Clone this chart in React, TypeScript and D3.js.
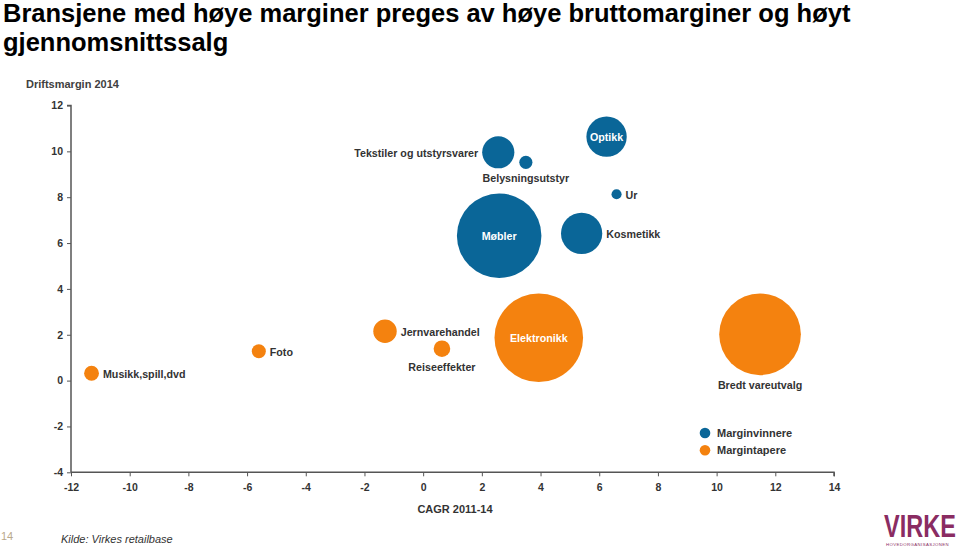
import React, { useEffect, useRef } from "react";
import * as d3 from "d3";

// Bransjer: CAGR 2011-14 (x), driftsmargin 2014 (y), gj.snittssalg (relativ boblestørrelse)
const names = [
  "Tekstiler og utstyrsvarer",
  "Belysningsutstyr",
  "Optikk",
  "Ur",
  "Møbler",
  "Kosmetikk",
  "Musikk,spill,dvd",
  "Foto",
  "Jernvarehandel",
  "Reiseeffekter",
  "Elektronikk",
  "Bredt vareutvalg",
];
const cagr = [2.56, 3.5, 6.25, 6.59, 2.59, 5.4, -11.3, -5.6, -1.3, 0.64, 3.94, 11.48];
const margin2014 = [9.96, 9.52, 10.64, 8.13, 6.32, 6.42, 0.32, 1.28, 2.15, 1.39, 1.87, 2.02];
const avgSales = [13.2, 2.2, 20.7, 1.3, 91, 21.7, 2.8, 2.5, 7.0, 3.5, 100, 85];
const group = ["w", "w", "w", "w", "w", "w", "l", "l", "l", "l", "l", "l"];

const xTicks = d3.range(-12, 15, 2);
const yTicks = d3.range(-4, 13, 2);

const legendItems = [
  { key: "w", label: "Marginvinnere" },
  { key: "l", label: "Margintapere" },
];

// where each label sits relative to its bubble
const labelPlace: Record<string, string> = {
  "Tekstiler og utstyrsvarer": "left",
  Belysningsutstyr: "below",
  Optikk: "inside",
  Ur: "right",
  Møbler: "inside",
  Kosmetikk: "right",
  "Musikk,spill,dvd": "right",
  Foto: "right",
  Jernvarehandel: "right",
  Reiseeffekter: "below",
  Elektronikk: "inside",
  "Bredt vareutvalg": "below",
};

const colors: Record<string, string> = { w: "#0a6698", l: "#f4820f" };
const font = "Arial, 'Liberation Sans', sans-serif";

export default function App() {
  const svgRef = useRef<SVGSVGElement>(null);

  useEffect(() => {
    const width = 959;
    const height = 547;
    const svg = d3.select(svgRef.current).attr("width", width).attr("height", height);
    svg.selectAll("*").remove();
    svg.style("font-family", font);

    const x = d3.scaleLinear().domain([-12, 14]).range([71, 834]);
    const y = d3.scaleLinear().domain([-4, 12]).range([472.3, 105.5]);
    const r = d3.scaleSqrt().domain([0, 100]).range([0, 44.3]);

    // title
    const title = svg.append("text").attr("font-size", 25.5).attr("font-weight", "bold").attr("fill", "#000");
    title.append("tspan").attr("x", 3).attr("y", 22).text("Bransjene med høye marginer preges av høye bruttomarginer og høyt");
    title.append("tspan").attr("x", 3).attr("y", 51).text("gjennomsnittssalg");

    svg.append("text").attr("x", 26).attr("y", 88).attr("font-size", 11).attr("font-weight", "bold")
      .attr("fill", "#404040").text("Driftsmargin 2014");

    // axes
    const axisColor = "#555";
    const fmt = (d: any) => String(d);
    const yAxis = svg.append("g").attr("transform", `translate(${x(-12)},0)`)
      .call(d3.axisLeft(y).tickValues(yTicks).tickSize(4).tickPadding(4).tickFormat(fmt));
    const xAxis = svg.append("g").attr("transform", `translate(0,${y(-4)})`)
      .call(d3.axisBottom(x).tickValues(xTicks).tickSize(4).tickPadding(7).tickFormat(fmt));
    [yAxis, xAxis].forEach((g) => {
      g.select(".domain").attr("stroke", axisColor).attr("stroke-width", 1.5);
      g.selectAll(".tick line").attr("stroke", axisColor);
      g.selectAll(".tick text").attr("fill", "#333").attr("font-size", 10.5)
        .attr("font-weight", "bold").attr("font-family", font);
    });
    yAxis.select(".domain").attr("d", `M-4,${y(12)}H0V${y(-4)}`);
    xAxis.select(".domain").attr("d", `M${x(-12)},0H${x(14)}V4`);

    svg.append("text").attr("x", 455).attr("y", 513).attr("text-anchor", "middle")
      .attr("font-size", 11).attr("font-weight", "bold").attr("fill", "#333").text("CAGR 2011-14");

    // bubbles
    const data = names.map((n, i) => ({
      name: n, x: cagr[i], y: margin2014[i], s: avgSales[i], g: group[i],
    }));
    const sorted = [...data].sort((a, b) => b.s - a.s);

    svg.append("g").selectAll("circle").data(sorted).enter().append("circle")
      .attr("cx", (d) => x(d.x)).attr("cy", (d) => y(d.y)).attr("r", (d) => r(d.s))
      .attr("fill", (d) => colors[d.g]);

    const labels = svg.append("g").attr("font-size", 10.7).attr("font-weight", "bold");
    data.forEach((d) => {
      const cx = x(d.x);
      const cy = y(d.y);
      const rr = r(d.s);
      const place = labelPlace[d.name];
      const t = labels.append("text").text(d.name).attr("fill", "#333");
      if (place === "inside") {
        t.attr("x", cx).attr("y", cy + 4).attr("text-anchor", "middle").attr("fill", "#fff");
      } else if (place === "right") {
        t.attr("x", cx + rr + 4).attr("y", cy + 4.5);
      } else if (place === "left") {
        t.attr("x", cx - rr - 4).attr("y", cy + 5).attr("text-anchor", "end");
      } else {
        t.attr("x", cx).attr("y", cy + rr + 13.5).attr("text-anchor", "middle");
      }
    });

    // legend
    const legend = svg.append("g").attr("transform", "translate(705,433)");
    legendItems.forEach((it, i) => {
      const g = legend.append("g").attr("transform", `translate(0,${i * 17.3})`);
      g.append("circle").attr("r", 5.3).attr("fill", colors[it.key]);
      g.append("text").attr("x", 12).attr("y", 4).attr("font-size", 11).attr("font-weight", "bold")
        .attr("fill", "#333").text(it.label);
    });

    // footer
    svg.append("text").attr("x", 1).attr("y", 540).attr("font-size", 11).attr("fill", "#b9a98c").text("14");
    svg.append("text").attr("x", 61).attr("y", 543).attr("font-size", 11).attr("font-style", "italic")
      .attr("fill", "#333").text("Kilde: Virkes retailbase");

    // logo
    svg.append("text").attr("transform", "translate(884,537) scale(1,1.3)").attr("font-size", 23.5)
      .attr("font-weight", "bold").attr("fill", "#8a2c62").text("VIRKE");
    svg.append("text").attr("x", 886).attr("y", 546).attr("font-size", 4.3)
      .attr("fill", "#8a2c62").attr("letter-spacing", 0.4).text("HOVEDORGANISASJONEN");
  }, []);

  return <svg ref={svgRef} style={{ position: "absolute", left: 0, top: 0 }} />;
}
